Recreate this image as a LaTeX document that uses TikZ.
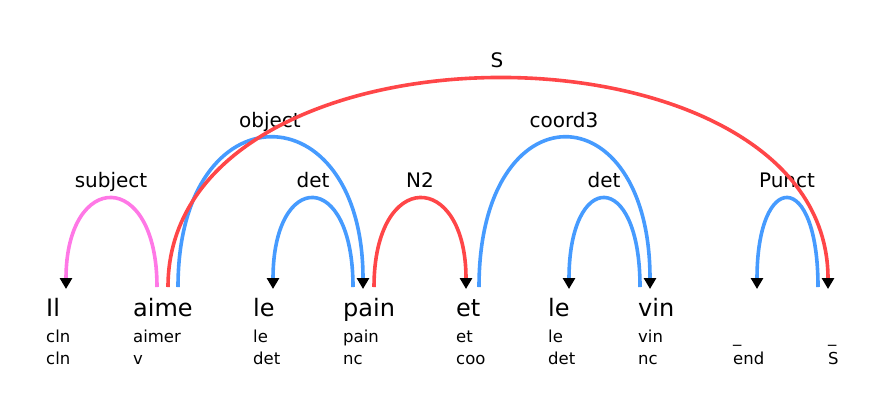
\documentclass[tikz,border=0pt]{standalone}
\usepackage{fontspec}
\setmainfont{DejaVu Sans}
\usetikzlibrary{arrows.meta}
\definecolor{arcpink}{RGB}{255,120,230}
\definecolor{arcred}{RGB}{255,70,72}
\definecolor{arcblue}{RGB}{70,155,255}

\begin{document}
\begin{tikzpicture}[x=1pt,y=-1pt,
  word/.style={anchor=base west,inner sep=0pt,font=\fontsize{24}{28}\selectfont},
  info/.style={anchor=base west,inner sep=0pt,font=\fontsize{16.5}{19}\selectfont},
  rel/.style={anchor=base,inner sep=0pt,font=\fontsize{20}{23}\selectfont},
  dep/.style={line width=3.6pt,-{Triangle[color=black,width=12pt,length=11pt]}}]
  \useasboundingbox (0,0) rectangle (874,408);

  % words, lemmas, tags
  \node[word] (il)   at (46,316)  {Il};
  \node[word] (aime) at (133,316) {aime};
  \node[word] (le)   at (253,316) {le};
  \node[word] (pain) at (343,316) {pain};
  \node[word] (et)   at (456,316) {et};
  \node[word] (leb)  at (548,316) {le};
  \node[word] (vin)  at (638,316) {vin};

  \node[info] (il-l)   at (46,342)  {cln};
  \node[info] (aime-l) at (133,342) {aimer};
  \node[info] (le-l)   at (253,342) {le};
  \node[info] (pain-l) at (343,342) {pain};
  \node[info] (et-l)   at (456,342) {et};
  \node[info] (leb-l)  at (548,342) {le};
  \node[info] (vin-l)  at (638,342) {vin};
  \node[info] (end-l)  at (733,342) {\_};
  \node[info] (s-l)    at (828,342) {\_};

  \node[info] (il-t)   at (46,364)  {cln};
  \node[info] (aime-t) at (133,364) {v};
  \node[info] (le-t)   at (253,364) {det};
  \node[info] (pain-t) at (343,364) {nc};
  \node[info] (et-t)   at (456,364) {coo};
  \node[info] (leb-t)  at (548,364) {det};
  \node[info] (vin-t)  at (638,364) {nc};
  \node[info] (end-t)  at (733,364) {end};
  \node[info] (s-t)    at (828,364) {S};

  % arc ends
  \coordinate (subj-a) at (157,287);  \coordinate (subj-b) at (66,289);
  \coordinate (obj-a)  at (178,287);  \coordinate (obj-b)  at (363,289);
  \coordinate (det-a)  at (353,287);  \coordinate (det-b)  at (273,289);
  \coordinate (n2-a)   at (374,287);  \coordinate (n2-b)   at (466,289);
  \coordinate (co-a)   at (479,287);  \coordinate (co-b)   at (650,289);
  \coordinate (detb-a) at (640,287);  \coordinate (detb-b) at (569,289);
  \coordinate (pun-a)  at (818,287);  \coordinate (pun-b)  at (757,289);
  \coordinate (root-a) at (168,287);  \coordinate (root-b) at (828,289);

  % relation labels
  \node[rel] (subj-r) at (111,187) {subject};
  \node[rel] (obj-r)  at (270,127) {object};
  \node[rel] (det-r)  at (313,187) {det};
  \node[rel] (n2-r)   at (420,187) {N2};
  \node[rel] (co-r)   at (564,127) {coord3};
  \node[rel] (detb-r) at (604,187) {det};
  \node[rel] (pun-r)  at (787,187) {Punct};
  \node[rel] (root-r) at (497,67)  {S};

  \draw[dep,arcpink] (subj-a) .. controls +(0,-119) and +(0,-119) .. (subj-b);
  \draw[dep,arcblue] (obj-a) .. controls +(0,-200) and +(0,-200) .. (obj-b);
  \draw[dep,arcblue] (det-a) .. controls +(0,-119) and +(0,-119) .. (det-b);
  \draw[dep,arcred]  (n2-a) .. controls +(0,-119) and +(0,-119) .. (n2-b);
  \draw[dep,arcblue] (co-a) .. controls +(0,-200) and +(0,-200) .. (co-b);
  \draw[dep,arcblue] (detb-a) .. controls +(0,-119) and +(0,-119) .. (detb-b);
  \draw[dep,arcblue] (pun-a) .. controls +(0,-119) and +(0,-119) .. (pun-b);
  \draw[dep,arcred]  (root-a) .. controls +(0,-279) and +(0,-279) .. (root-b);
\end{tikzpicture}
\end{document}
